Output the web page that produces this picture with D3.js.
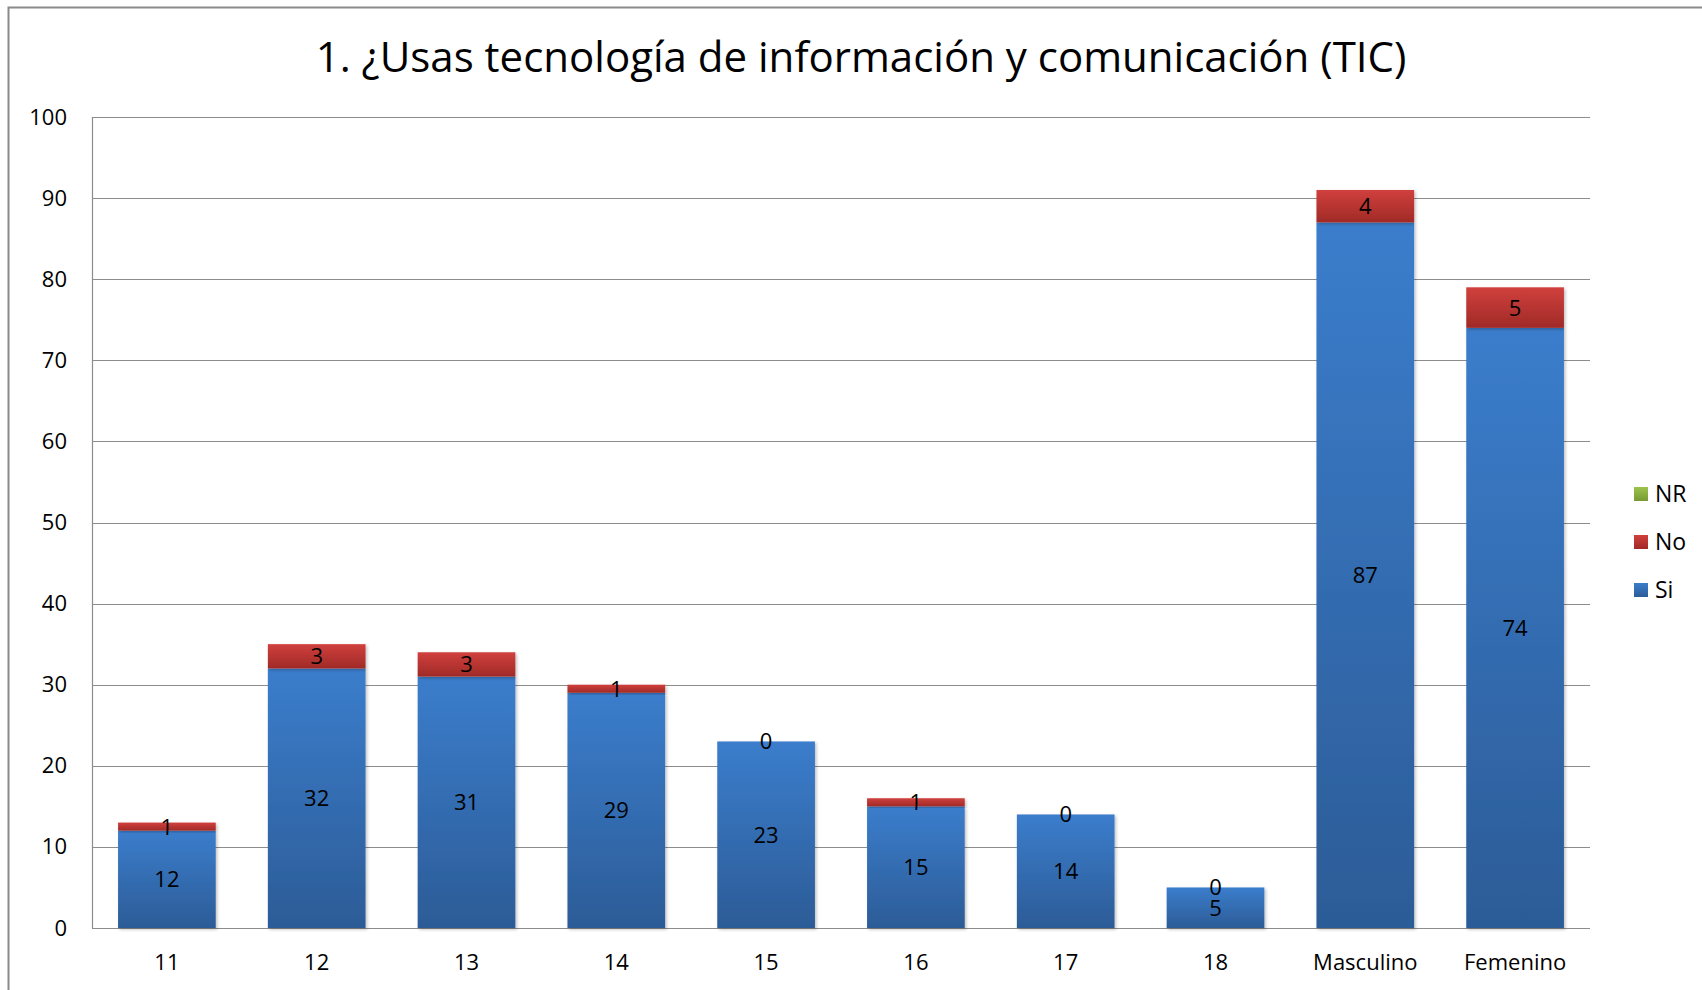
<!DOCTYPE html>
<html>
<head>
<meta charset="utf-8">
<style>
  body { margin: 0; background: #fff; }
  svg { display: block; font-family: "Open Sans", "DejaVu Sans", sans-serif; }
  .axis .domain { display: none; }
</style>
</head>
<body>
<script src="https://cdn.jsdelivr.net/npm/d3@7"></script>
<script>
  var categories = ["11", "12", "13", "14", "15", "16", "17", "18", "Masculino", "Femenino"];
  var si = [12, 32, 31, 29, 23, 15, 14, 5, 87, 74];
  var no = [1, 3, 3, 1, 0, 1, 0, 0, 4, 5];
  var nr = [0, 0, 0, 0, 0, 0, 0, 0, 0, 0];
  var seriesKeys = ["Si", "No", "NR"];
  var yTicks = [0, 10, 20, 30, 40, 50, 60, 70, 80, 90, 100];

  var W = 1702, H = 990;
  var margin = {top: 117, right: 112, bottom: 62, left: 92},
      width = W - margin.left - margin.right,
      height = H - margin.top - margin.bottom;

  var data = categories.map(function(c, i) {
    return {cat: c, Si: si[i], No: no[i], NR: nr[i]};
  });

  var svg = d3.select("body").append("svg")
      .attr("width", W).attr("height", H);

  // gradients per series
  var defs = svg.append("defs");
  var grads = {
    Si: ["#3b7dcc", "#2c5c97"],
    No: ["#d0403d", "#a02a27"],
    NR: ["#9bc44c", "#779a34"]
  };
  Object.keys(grads).forEach(function(k) {
    var g = defs.append("linearGradient").attr("id", "g" + k)
        .attr("x1", 0).attr("y1", 0).attr("x2", 0).attr("y2", 1);
    g.append("stop").attr("offset", "0%").attr("stop-color", grads[k][0]);
    g.append("stop").attr("offset", "100%").attr("stop-color", grads[k][1]);
  });
  var f = defs.append("filter").attr("id", "shadow")
      .attr("x", "-10%").attr("y", "-10%").attr("width", "130%").attr("height", "130%");
  f.append("feDropShadow").attr("dx", 1.5).attr("dy", 1.5).attr("stdDeviation", 1.5)
      .attr("flood-color", "#000").attr("flood-opacity", 0.25);

  // outer frame
  svg.append("rect")
      .attr("x", 8.5).attr("y", 7.5).attr("width", W + 20).attr("height", H + 20)
      .attr("fill", "none").attr("stroke", "#8a8a8a").attr("stroke-width", 2);

  svg.append("text")
      .attr("x", 861).attr("y", 72)
      .attr("text-anchor", "middle")
      .attr("font-size", 42)
      .attr("fill", "#000")
      .text("1. ¿Usas tecnología de información y comunicación (TIC)");

  var g = svg.append("g").attr("transform", "translate(" + margin.left + "," + margin.top + ")");

  var x = d3.scaleBand().domain(categories).range([0, width]).paddingInner(0.348).paddingOuter(0.174);
  var y = d3.scaleLinear().domain([0, 100]).range([height, 0]);

  // gridlines
  g.append("g").selectAll("line").data(yTicks).enter().append("line")
      .attr("x1", 0).attr("x2", width)
      .attr("y1", function(d) { return Math.round(y(d)) + 0.5; })
      .attr("y2", function(d) { return Math.round(y(d)) + 0.5; })
      .attr("stroke", "#8c8c8c").attr("stroke-width", 1.2);

  g.append("line").attr("x1", 0.5).attr("x2", 0.5).attr("y1", 0).attr("y2", height)
      .attr("stroke", "#8c8c8c").attr("stroke-width", 1.2);

  var stacked = d3.stack().keys(seriesKeys)(data);

  var layers = g.append("g").selectAll("g")
      .data(stacked).enter().append("g")
      .attr("fill", function(d) { return "url(#g" + d.key + ")"; });

  layers.selectAll("rect")
      .data(function(d) { return d.filter(function(p) { return p[1] - p[0] > 0; }); })
      .enter().append("rect")
      .attr("x", function(d) { return x(d.data.cat); })
      .attr("y", function(d) { return y(d[1]); })
      .attr("width", x.bandwidth())
      .attr("height", function(d) { return y(d[0]) - y(d[1]); })
      .attr("filter", "url(#shadow)");

  // value labels (Si and No)
  ["Si", "No"].forEach(function(k, li) {
    g.append("g").selectAll("text")
      .data(stacked[li]).enter().append("text")
      .attr("x", function(d) { return x(d.data.cat) + x.bandwidth() / 2; })
      .attr("y", function(d) { return y((d[0] + d[1]) / 2); })
      .attr("dy", "0.36em")
      .attr("text-anchor", "middle")
      .attr("font-size", 22)
      .attr("fill", "#000")
      .text(function(d) { return d.data[k]; });
  });

  // axes
  var yAxis = g.append("g").attr("class", "axis")
      .call(d3.axisLeft(y).tickValues(yTicks).tickSize(0).tickPadding(25));
  yAxis.selectAll("text").attr("font-size", 22).attr("fill", "#000")
      .attr("font-family", "\"Open Sans\", sans-serif");

  var xAxis = g.append("g").attr("class", "axis")
      .attr("transform", "translate(0," + height + ")")
      .call(d3.axisBottom(x).tickSize(0).tickPadding(26));
  xAxis.selectAll("text").attr("font-size", 22).attr("fill", "#000")
      .attr("font-family", "\"Open Sans\", sans-serif");

  // legend
  var legend = svg.append("g").selectAll("g")
      .data(seriesKeys.slice().reverse()).enter().append("g")
      .attr("transform", function(d, i) { return "translate(1634," + (494 + i * 48) + ")"; });
  legend.append("rect").attr("x", 0).attr("y", -7).attr("width", 14).attr("height", 14)
      .attr("fill", function(d) { return "url(#g" + d + ")"; });
  legend.append("text").attr("x", 21).attr("y", 0).attr("dy", "0.35em")
      .attr("font-size", 23).attr("fill", "#000")
      .text(function(d) { return d; });
</script>
</body>
</html>
